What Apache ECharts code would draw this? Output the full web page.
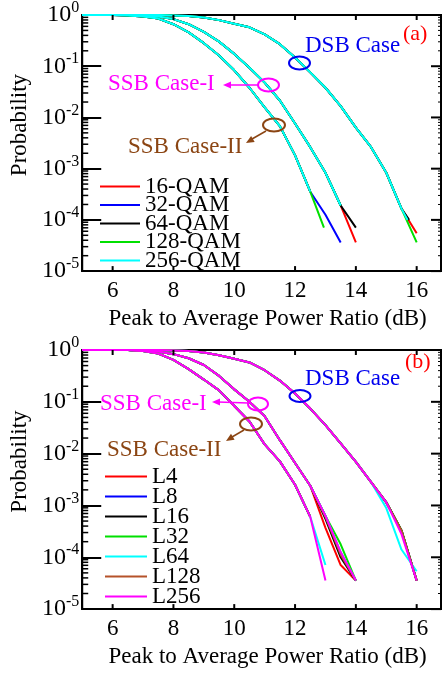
<!DOCTYPE html>
<html>
<head>
<meta charset="utf-8">
<script src="https://cdn.jsdelivr.net/npm/echarts@6/dist/echarts.min.js"></script>
<style>
  html, body { margin: 0; padding: 0; background: #fff; }
  #pa { width: 442px; height: 335px; }
  #pb { width: 442px; height: 338px; }
</style>
</head>
<body>
<div id="pa"></div>
<div id="pb"></div>
<script>
var FONT = '"Liberation Serif", "Times New Roman", serif';

// ticks
var xTicks = [6, 8, 10, 12, 14, 16];
var yMajor = [1e-5, 1e-4, 1e-3, 1e-2, 1e-1, 1];
var yMinor = [2e-5, 3e-5, 4e-5, 5e-5, 6e-5, 7e-5, 8e-5, 9e-5,
              2e-4, 3e-4, 4e-4, 5e-4, 6e-4, 7e-4, 8e-4, 9e-4,
              2e-3, 3e-3, 4e-3, 5e-3, 6e-3, 7e-3, 8e-3, 9e-3,
              2e-2, 3e-2, 4e-2, 5e-2, 6e-2, 7e-2, 8e-2, 9e-2,
              0.2, 0.3, 0.4, 0.5, 0.6, 0.7, 0.8, 0.9];

// ---- panel (a): modulation formats ----
var qamNames = ['16-QAM', '32-QAM', '64-QAM', '128-QAM', '256-QAM'];
var qamColors = ['#ff0000', '#0000ff', '#000000', '#00e000', '#00ffff'];

var aCase2X = [5, 5.5, 6, 6.5, 7, 7.5, 8, 8.5, 9, 9.5, 10, 10.5, 11, 11.5, 12, 12.5];
var aCase2Y = [1, 1, 1, 0.977, 0.933, 0.851, 0.661, 0.457, 0.282, 0.162, 0.0832, 0.038, 0.0158, 0.00676, 0.00182, 0.000355];
var aCase2Tail = [[], [[13, 1.26e-4], [13.5, 3.63e-5]], [], [[12.95, 7.08e-5]], []];

var aCase1X = [5, 5.5, 6, 6.5, 7, 7.5, 8, 8.5, 9, 9.5, 10, 10.5, 11, 11.5, 12, 12.5, 13, 13.5];
var aCase1Y = [1, 1, 1, 1, 0.977, 0.933, 0.832, 0.661, 0.468, 0.302, 0.174, 0.0933, 0.0479, 0.0214, 0.00759, 0.00263, 0.000832, 0.000191];
var aCase1Tail = [[[14, 3.63e-5]], [], [[14, 7.08e-5]], [], []];

var aDsbX = [5, 5.5, 6, 6.5, 7, 7.5, 8, 8.5, 9, 9.5, 10, 10.5, 11, 11.5, 12, 12.5, 13, 13.5, 14, 14.5, 15, 15.5];
var aDsbY = [1, 1, 1, 1, 1, 1, 0.977, 0.955, 0.891, 0.794, 0.676, 0.575, 0.417, 0.269, 0.148, 0.0759, 0.038, 0.0166, 0.00631, 0.00263, 0.000832, 0.000166];
var aDsbTail = [[[16, 5.5e-5]], [], [[15.75, 1.0e-4]], [[16, 3.63e-5]], [[15.7, 1.0e-4]]];

// ---- panel (b): L values ----
var lNames = ['L4', 'L8', 'L16', 'L32', 'L64', 'L128', 'L256'];
var lColors = ['#ff0000', '#0000ff', '#000000', '#00e000', '#00ffff', '#b5522a', '#ff00ff'];

var bCase2X = [5, 5.5, 6, 6.5, 7, 7.5, 8, 8.5, 9, 9.5, 10, 10.5, 11, 11.5, 12, 12.5];
var bCase2Y = [1, 1, 1, 1, 0.955, 0.851, 0.646, 0.427, 0.269, 0.166, 0.0832, 0.0417, 0.0151, 0.00708, 0.00251, 0.000603];
var bCase2Tail = [[], [], [], [], [[13, 7.08e-5]], [], [[13, 3.55e-5]]];

var bCase1X = [5, 5.5, 6, 6.5, 7, 7.5, 8, 8.5, 9, 9.5, 10, 10.5, 11, 11.5, 12, 12.5];
var bCase1Y = [1, 1, 1, 1, 0.977, 0.933, 0.832, 0.692, 0.513, 0.316, 0.174, 0.1, 0.0525, 0.0182, 0.00661, 0.0024];
var bCase1Tail = [
  [[13, 3.7e-4], [13.5, 7.08e-5], [14, 3.55e-5]],
  [[13, 6.3e-4], [13.5, 1.12e-4], [14, 3.55e-5]],
  [[13, 5.5e-4], [13.5, 1.0e-4], [14, 3.55e-5]],
  [[13, 6.3e-4], [13.5, 1.78e-4], [14, 3.55e-5]],
  [[13, 6.3e-4], [13.5, 1.26e-4], [14, 3.55e-5]],
  [[13, 6.0e-4], [13.5, 1.12e-4], [14, 3.55e-5]],
  [[13, 6.3e-4], [13.5, 1.26e-4], [14, 3.55e-5]]
];

var bDsbX = [5, 5.5, 6, 6.5, 7, 7.5, 8, 8.5, 9, 9.5, 10, 10.5, 11, 11.5, 12, 12.5, 13, 13.5, 14, 14.5];
var bDsbY = [1, 1, 1, 1, 1, 1, 0.977, 0.955, 0.891, 0.794, 0.676, 0.575, 0.407, 0.257, 0.145, 0.0741, 0.0355, 0.0158, 0.00692, 0.00282];
var bDsbTail = [
  [[15, 1.15e-3], [15.5, 3.24e-4], [16, 3.55e-5]],
  [[15, 1.15e-3], [15.5, 3.3e-4], [16, 3.55e-5]],
  [[15, 1.15e-3], [15.5, 3.3e-4], [16, 3.55e-5]],
  [[15, 1.15e-3], [15.5, 3.3e-4], [16, 3.55e-5]],
  [[15, 8.9e-4], [15.5, 1.41e-4], [16, 5.37e-5]],
  [[15, 1.15e-3], [15.5, 3.3e-4], [16, 3.55e-5]],
  [[15, 1.15e-3], [15.5, 2.8e-4], [16, 3.55e-5]]
];

function buildLine(xs, ys, tail) {
  var pts = xs.map(function (x, i) { return [x, ys[i]]; });
  return pts.concat(tail);
}

function supLabel(v) {
  var e = Math.round(Math.log(v) / Math.LN10);
  return '{b|10}{s|' + e + '}';
}

// ticks drawn as thin rect symbols, placed by the axes' own scales
function tickSeries(points, w, h, ox, oy) {
  return {
    type: 'scatter', clip: false, z: 5,
    symbol: 'rect', symbolSize: [w, h], symbolOffset: [ox, oy],
    itemStyle: { color: '#000', opacity: 1 },
    data: points
  };
}
function tickList() {
  var at = function (xs, y) { return xs.map(function (x) { return [x, y]; }); };
  var atY = function (ys, x) { return ys.map(function (y) { return [x, y]; }); };
  return [
    tickSeries(atY(yMinor, 5), 6, 1.5, 3, 0),
    tickSeries(atY(yMajor, 16.8), 10, 2, -5, 0),
    tickSeries(atY(yMinor, 16.8), 3, 1, -1.5, 0),
    tickSeries(at(xTicks, 1e-5), 2, 5, 0, -2.5),
    tickSeries(at(xTicks, 1), 2, 5, 0, 2.5)
  ];
}

function txt(s, x, y, color, size) {
  return { type: 'text', z: 100, style: { text: s, x: x, y: y, fill: color, fontSize: size || 23, fontFamily: FONT, verticalAlign: 'middle', align: 'left' } };
}
function ell(cx, cy, rx, ry, color) {
  return { type: 'ellipse', z: 100, shape: { cx: cx, cy: cy, rx: rx, ry: ry }, style: { fill: 'none', stroke: color, lineWidth: 2 } };
}
function seg(x1, y1, x2, y2, color) {
  return { type: 'line', z: 100, shape: { x1: x1, y1: y1, x2: x2, y2: y2 }, style: { stroke: color, lineWidth: 1.5 } };
}
function head(pts, color) {
  return { type: 'polygon', z: 100, shape: { points: pts }, style: { fill: color } };
}
var BLUE = '#0000ee', MAG = '#ff00ff', BROWN = '#8b4513', RED = '#ff0000';

function panelOption(gridTop, gridHeight, names, colors, groups, legendTop, legendLeft, legendGap, iconW, graphics) {
  var series = [];
  names.forEach(function (name, i) {
    groups.forEach(function (g) {
      series.push({
        name: name, type: 'line', symbol: 'none', color: colors[i],
        lineStyle: { width: 2, color: colors[i] },
        data: buildLine(g[0], g[1], g[2][i])
      });
    });
  });
  series = series.concat(tickList());
  return {
    animation: false,
    grid: { left: 76, top: gridTop, width: 365, height: gridHeight, show: true, borderColor: '#000', borderWidth: 2 },
    xAxis: {
      type: 'value', min: 5, max: 16.8, interval: 1,
      splitLine: { show: false },
      axisLine: { show: true, lineStyle: { color: '#000', width: 2 } },
      axisTick: { show: false },
      axisLabel: {
        margin: 8, color: '#000', fontSize: 23, fontFamily: FONT, showMinLabel: false, showMaxLabel: false,
        formatter: function (v) { return xTicks.indexOf(v) >= 0 ? String(v) : ''; }
      },
      name: 'Peak to Average Power Ratio (dB)', nameLocation: 'middle', nameGap: 26,
      nameTextStyle: { color: '#000', fontSize: 23, fontFamily: FONT, padding: [0, 0, 0, 12] }
    },
    yAxis: {
      type: 'log', logBase: 10, min: 1e-5, max: 1,
      splitLine: { show: false },
      axisLine: { show: true, lineStyle: { color: '#000', width: 2 } },
      axisTick: { show: true, inside: true, length: 19, lineStyle: { color: '#000', width: 2 } },
      axisLabel: {
        margin: 3, formatter: supLabel, color: '#000', fontSize: 24, fontFamily: FONT,
        rich: {
          b: { fontSize: 24, fontFamily: FONT, color: '#000' },
          s: { fontSize: 16, fontFamily: FONT, color: '#000', padding: [0, 0, 14, 0] }
        }
      },
      name: 'Probability', nameLocation: 'middle', nameGap: 34,
      nameTextStyle: { color: '#000', fontSize: 23, fontFamily: FONT, padding: [0, 0, 0, 36] }
    },
    legend: {
      data: names, orient: 'vertical', left: legendLeft, top: legendTop, padding: 0, itemGap: legendGap,
      icon: 'rect', itemWidth: iconW, itemHeight: 2,
      textStyle: { fontSize: 23, fontFamily: FONT, color: '#000' }
    },
    series: series,
    graphic: graphics
  };
}

var chartA = echarts.init(document.getElementById('pa'));
chartA.setOption(panelOption(10, 273, qamNames, qamColors,
  [[aCase2X, aCase2Y, aCase2Tail], [aCase1X, aCase1Y, aCase1Tail], [aDsbX, aDsbY, aDsbTail]],
  175, 100, -4.5, 40,
  [
    txt('(a)', 403, 34, RED, 22),
    txt('DSB Case', 305, 45.5, BLUE),
    ell(299.5, 63, 10.5, 6.5, BLUE),
    txt('SSB Case-I', 108, 83.5, MAG),
    seg(229, 85, 258, 85, MAG),
    head([[223, 85], [231, 81.5], [231, 88.5]], MAG),
    ell(268.5, 85, 10.5, 6.5, MAG),
    txt('SSB Case-II', 128, 147, BROWN),
    ell(274, 125, 11, 6.5, BROWN),
    seg(266, 131, 252, 139, BROWN),
    head([[246, 143], [254.7, 141.9], [251.1, 135.9]], BROWN)
  ]));

// panel (b) sits 335px lower on the page
var chartB = echarts.init(document.getElementById('pb'));
chartB.setOption(panelOption(5, 277, lNames, lColors,
  [[bCase2X, bCase2Y, bCase2Tail], [bCase1X, bCase1Y, bCase1Tail], [bDsbX, bDsbY, bDsbTail]],
  130, 105, -3, 42,
  [
    txt('(b)', 405, 27, RED, 22),
    txt('DSB Case', 305, 44, BLUE),
    ell(300, 61, 10.5, 6, BLUE),
    txt('SSB Case-I', 100, 68.5, MAG),
    seg(218, 67, 248, 68, MAG),
    head([[212, 67], [220, 63.5], [220, 70.5]], MAG),
    ell(258, 69, 10, 6.5, MAG),
    txt('SSB Case-II', 107, 115, BROWN),
    ell(251, 89, 11, 6.5, BROWN),
    seg(244, 95, 232, 102, BROWN),
    head([[226, 106], [234.6, 104.8], [231, 98.8]], BROWN)
  ]));
</script>
</body>
</html>
